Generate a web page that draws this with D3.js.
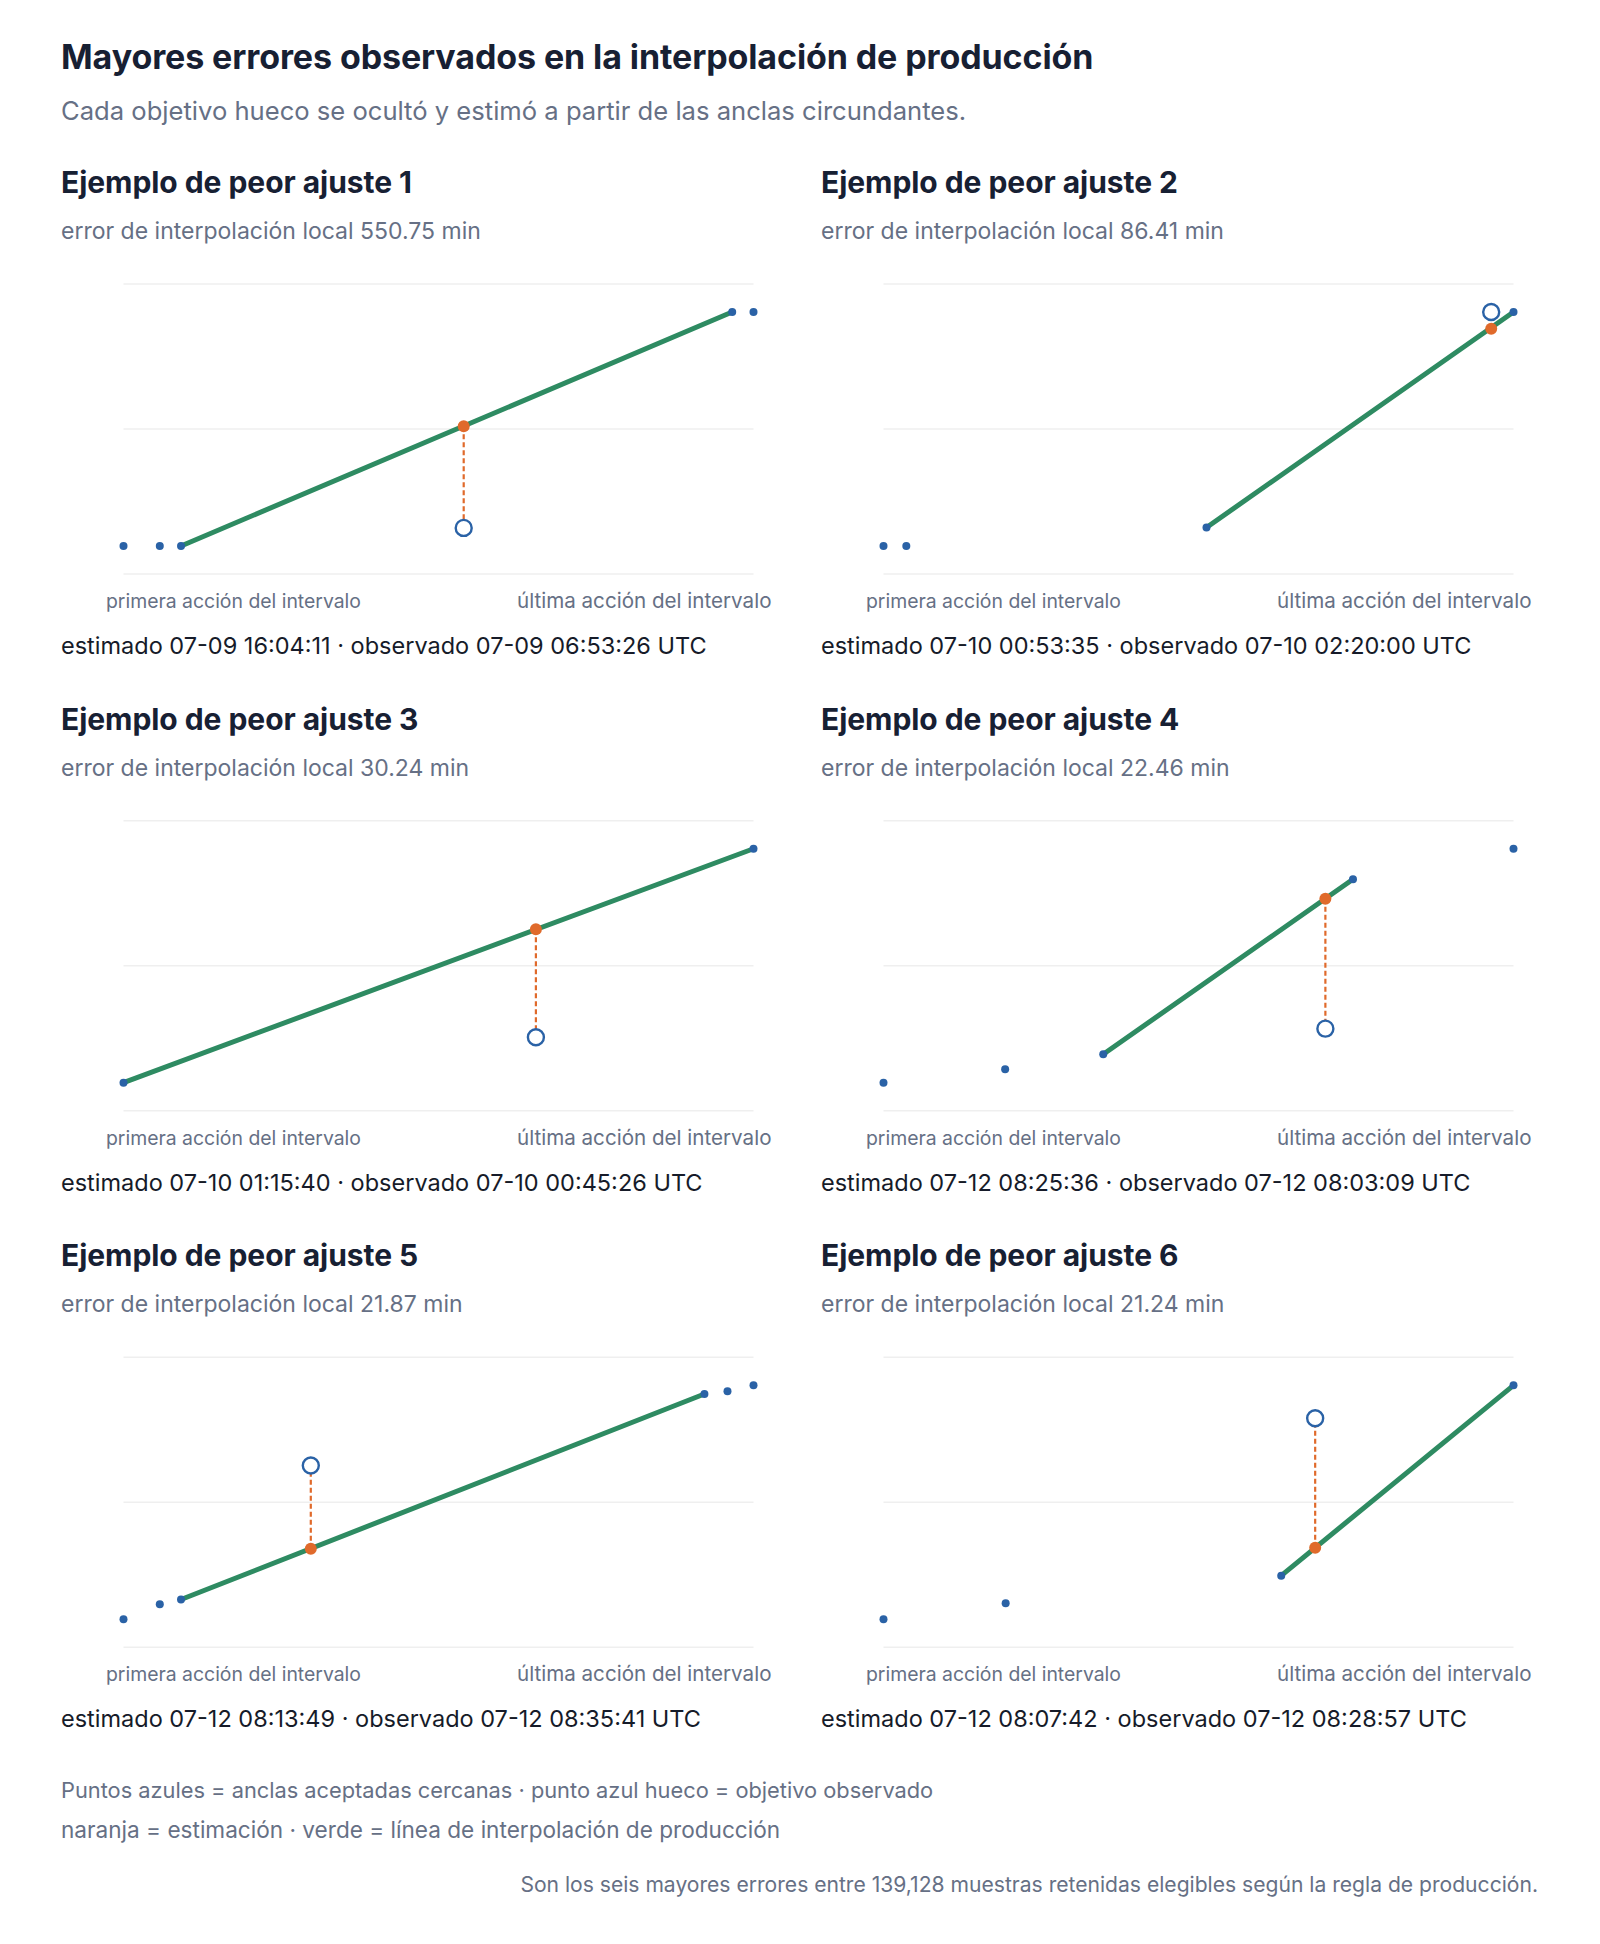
<!DOCTYPE html>
<html>
<head>
<meta charset="utf-8">
<script src="https://cdn.jsdelivr.net/npm/d3@7"></script>
<style>
  body { margin: 0; background: #ffffff; }
  svg { display: block; }
  text { font-family: Inter, "Noto Sans", "DejaVu Sans", sans-serif; }
</style>
</head>
<body>
<svg id="chart" width="1600" height="1944"></svg>
<script>
// ---------- data ----------
const chartTitle = "Mayores errores observados en la interpolación de producción";
const chartSubtitle = "Cada objetivo hueco se ocultó y estimó a partir de las anclas circundantes.";
const panelTitles = [
  "Ejemplo de peor ajuste 1", "Ejemplo de peor ajuste 2", "Ejemplo de peor ajuste 3",
  "Ejemplo de peor ajuste 4", "Ejemplo de peor ajuste 5", "Ejemplo de peor ajuste 6"
];
const errorLabels = ["550.75", "86.41", "30.24", "22.46", "21.87", "21.24"];
const estimatedTimes = ["07-09 16:04:11", "07-10 00:53:35", "07-10 01:15:40", "07-12 08:25:36", "07-12 08:13:49", "07-12 08:07:42"];
const observedTimes  = ["07-09 06:53:26", "07-10 02:20:00", "07-10 00:45:26", "07-12 08:03:09", "07-12 08:35:41", "07-12 08:28:57"];
// anchor position within the interval (0 = first action, 100 = last action)
const anchorPositions = [
  [0, 5.76, 9.13, 96.62, 100],
  [0, 3.62, 51.27, 100],
  [0, 100],
  [0, 19.31, 34.88, 74.52, 100],
  [0, 5.76, 9.13, 92.21, 95.87, 100],
  [0, 19.39, 63.13, 100]
];
// anchor time, minutes relative to the observed target
const anchorOffsetsMin = [
  [-97.6, -97.6, -97.6, 1168.8, 1168.8],
  [-1218, -1218, -1122, 0],
  [-12.71, 52.72],
  [-9.33, -7.02, -4.42, 25.82, 31.1],
  [-40.43, -36.49, -35.25, 18.82, 19.5, 21.08],
  [-32.99, -30.37, -25.83, 5.41]
];
const lineAnchorPairs = [[2, 3], [2, 3], [0, 1], [2, 3], [2, 3], [2, 3]];
const targetPositions = [54.0, 96.46, 65.46, 70.14, 29.73, 68.52];
const axisEndLabels = ["primera acción del intervalo", "última acción del intervalo"];
const legendLines = [
  "Puntos azules = anclas aceptadas cercanas · punto azul hueco = objetivo observado",
  "naranja = estimación · verde = línea de interpolación de producción"
];
const footnote = "Son los seis mayores errores entre 139,128 muestras retenidas elegibles según la regla de producción.";

// ---------- style ----------
const C = {
  title: "#172033", muted: "#667085", text: "#161b29",
  grid: "#efefef", blue: "#2a62a6", orange: "#e06a2b", green: "#2e8b62"
};

const svg = d3.select("#chart");
svg.append("rect").attr("width", 1600).attr("height", 1944).attr("fill", "#fff");

svg.append("text").attr("x", 61).attr("y", 69)
  .attr("font-size", 34).attr("font-weight", 700).attr("fill", C.title)
  .attr("letter-spacing", -0.1).text(chartTitle);
svg.append("text").attr("x", 61).attr("y", 120)
  .attr("font-size", 25.6).attr("fill", C.muted).text(chartSubtitle);

const parseT = d3.utcParse("%m-%d %H:%M:%S");
const colX = [61, 821];
const rowY = [0, 536.7, 1073.3];

panelTitles.forEach((title, i) => {
  const ox = colX[i % 2], oy = rowY[Math.floor(i / 2)];
  const g = svg.append("g").attr("transform", `translate(${ox},${oy})`);

  g.append("text").attr("x", 0).attr("y", 193)
    .attr("font-size", 30).attr("font-weight", 700).attr("fill", C.title)
    .attr("letter-spacing", -0.05).text(title);
  g.append("text").attr("x", 0).attr("y", 239)
    .attr("font-size", 23).attr("fill", C.muted)
    .text(`error de interpolación local ${errorLabels[i]} min`);

  const estOffset = (parseT(estimatedTimes[i]) - parseT(observedTimes[i])) / 60000;
  const ys = anchorOffsetsMin[i].concat([0, estOffset]);
  const [lo, hi] = d3.extent(ys);
  const pad = (hi - lo) * 0.12;

  const x = d3.scaleLinear().domain(d3.extent(anchorPositions[i])).range([62.5, 692.5]);
  const y = d3.scaleLinear().domain([lo - pad, hi + pad]).range([574, 284]);

  // gridlines
  const gridVals = [y.domain()[0], (y.domain()[0] + y.domain()[1]) / 2, y.domain()[1]];
  g.append("g").selectAll("line").data(gridVals).join("line")
    .attr("x1", x.range()[0]).attr("x2", x.range()[1])
    .attr("y1", d => y(d)).attr("y2", d => y(d))
    .attr("stroke", C.grid).attr("stroke-width", 1.5);

  // interpolation line
  const [a, b] = lineAnchorPairs[i];
  const pts = [a, b].map(k => [anchorPositions[i][k], anchorOffsetsMin[i][k]]);
  g.append("path").datum(pts)
    .attr("d", d3.line().x(d => x(d[0])).y(d => y(d[1])))
    .attr("stroke", C.green).attr("stroke-width", 5).attr("fill", "none")
    .attr("stroke-linecap", "round");

  // error connector
  const tx = targetPositions[i];
  g.append("line")
    .attr("x1", x(tx)).attr("x2", x(tx))
    .attr("y1", y(estOffset)).attr("y2", y(0))
    .attr("stroke", C.orange).attr("stroke-width", 2.2).attr("stroke-dasharray", "5,3");

  // anchors
  g.append("g").selectAll("circle").data(anchorPositions[i].map((p, k) => [p, anchorOffsetsMin[i][k]]))
    .join("circle")
    .attr("cx", d => x(d[0])).attr("cy", d => y(d[1])).attr("r", 4)
    .attr("fill", C.blue);

  // observed target (hollow)
  g.append("circle").attr("cx", x(tx)).attr("cy", y(0)).attr("r", 8)
    .attr("fill", "#fff").attr("stroke", C.blue).attr("stroke-width", 2.4);

  // estimate
  g.append("circle").attr("cx", x(tx)).attr("cy", y(estOffset)).attr("r", 6)
    .attr("fill", C.orange);

  // axis end labels
  g.append("text").attr("x", x.range()[0] - 17.5).attr("y", 608)
    .attr("font-size", 19.4).attr("fill", C.muted).text(axisEndLabels[0]);
  g.append("text").attr("x", x.range()[1] + 18).attr("y", 608)
    .attr("text-anchor", "end").attr("font-size", 20.6).attr("fill", C.muted).text(axisEndLabels[1]);

  g.append("text").attr("x", 0).attr("y", 654)
    .attr("font-size", 23.5).attr("fill", C.text)
    .text(`estimado ${estimatedTimes[i]} · observado ${observedTimes[i]} UTC`);
});

svg.append("g").selectAll("text").data(legendLines).join("text")
  .attr("x", 61).attr("y", (d, k) => 1798 + k * 40)
  .attr("font-size", (d, k) => k === 0 ? 21.8 : 22.6).attr("fill", C.muted).text(d => d);

svg.append("text").attr("x", 1538).attr("y", 1892).attr("text-anchor", "end")
  .attr("font-size", 21.1).attr("fill", C.muted).text(footnote);
</script>
</body>
</html>
